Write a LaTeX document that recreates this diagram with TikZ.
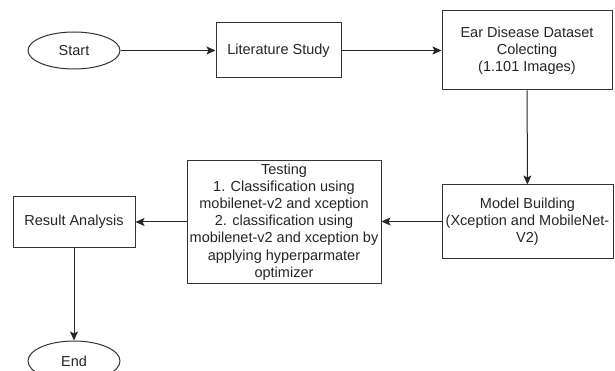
\documentclass[tikz,border=0pt]{standalone}
\usepackage{fontspec}
\setmainfont{Liberation Sans}
\usetikzlibrary{arrows.meta,shapes.geometric}
\begin{document}
\begin{tikzpicture}[x=1pt,y=-1pt,
  every node/.style={font=\fontsize{14.5}{17.2}\selectfont, text=black!85, align=center, inner sep=0pt},
  procbox/.style={draw=black!80, line width=1pt, rectangle},
  term/.style={draw=black!80, line width=1pt, ellipse, minimum width=92pt, minimum height=37pt},
  flow/.style={draw=black!85, line width=1pt, -{Stealth[length=9pt,width=8pt,inset=2pt]}}
]
\useasboundingbox (0,0) rectangle (615,371);
\fill[white] (0,0) rectangle (615,371);
\node[term] (start) at (74,50.5) {Start};
\node[procbox, minimum width=125pt, minimum height=55pt] (lit) at (278.5,50.5) {Literature Study};
\node[procbox, minimum width=170pt, minimum height=79pt] (ear) at (527,50.5) {Ear Disease Dataset\\Colecting\\(1.101 Images)};
\node[procbox, minimum width=171pt, minimum height=73pt] (model) at (527.5,221.5) {Model Building\\(Xception and MobileNet-\\V2)};
\node[procbox, minimum width=194pt, minimum height=122pt] (test) at (284,222) {Testing\\1. Classification using\\mobilenet-v2 and xception\\2. classification using\\mobilenet-v2 and xception by\\applying hyperparmater\\optimizer};
\node[procbox, minimum width=122pt, minimum height=50pt] (res) at (74,222) {Result Analysis};
\node[term, minimum height=40pt] (end) at (74,361) {End};
\draw[flow] (start) -- (lit);
\draw[flow] (lit) -- (ear);
\draw[flow] (ear) -- (model);
\draw[flow] (model) -- (model.west -| test.east);
\draw[flow] (test.west |- res) -- (res);
\draw[flow] (res) -- (end);
\end{tikzpicture}
\end{document}
